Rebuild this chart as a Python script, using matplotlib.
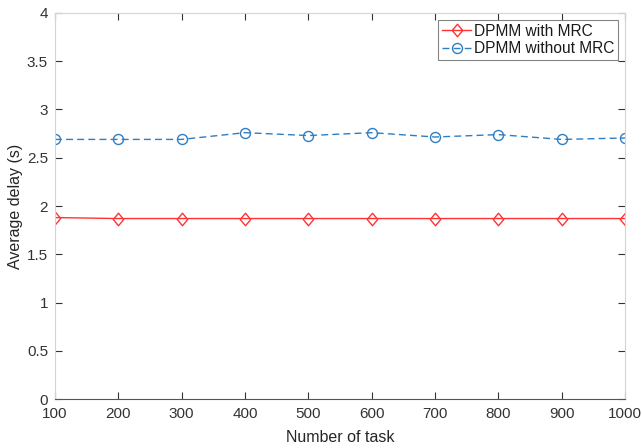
import matplotlib
matplotlib.use("Agg")
import matplotlib.pyplot as plt
from matplotlib.path import Path

plt.rcParams['font.family'] = ['Liberation Sans', 'DejaVu Sans']

tasks = [100, 200, 300, 400, 500, 600, 700, 800, 900, 1000]
delay_with_mrc = [1.88, 1.87, 1.87, 1.87, 1.87, 1.87, 1.87, 1.87, 1.87, 1.87]
delay_without_mrc = [2.69, 2.69, 2.69, 2.76, 2.73, 2.76, 2.715, 2.74, 2.69, 2.705]
y_ticks = [0, 0.5, 1, 1.5, 2, 2.5, 3, 3.5, 4]
y_tick_labels = ['0', '0.5', '1', '1.5', '2', '2.5', '3', '3.5', '4']

# MATLAB-style diamond: slightly taller than wide
diamond = Path([(0, 0.5), (0.42, 0), (0, -0.5), (-0.42, 0), (0, 0.5)],
               [Path.MOVETO, Path.LINETO, Path.LINETO, Path.LINETO, Path.CLOSEPOLY])

fig = plt.figure(figsize=(6.42, 4.48), dpi=100)
ax = fig.add_axes([55 / 642, 1 - 399 / 448, 570 / 642, 386 / 448])

ax.plot(tasks, delay_with_mrc, color='#ff3333', linestyle='-', linewidth=1.0,
        marker=diamond, markersize=9, markerfacecolor='none', markeredgewidth=1.0,
        label='DPMM with MRC')
ax.plot(tasks, delay_without_mrc, color='#2f7ec4', linestyle=(0, (5, 3)), linewidth=1.0,
        marker='o', markersize=7.2, markerfacecolor='none', markeredgewidth=1.0,
        label='DPMM without MRC')

ax.set_xlim(100, 1000)
ax.set_ylim(0, 4)
ax.set_xticks(tasks)
ax.set_yticks(y_ticks)
ax.set_yticklabels(y_tick_labels)

for s in ax.spines.values():
    s.set_color('#d4d4d4')
    s.set_linewidth(0.8)
ax.spines['bottom'].set_color('#555555')

ax.tick_params(direction='in', top=True, right=True, length=5, width=0.8,
               color='#333333', labelsize=11, labelcolor='#333333')
ax.tick_params(axis='x', pad=6)
ax.tick_params(axis='y', pad=5)

ax.set_xlabel('Number of task', fontsize=11.5, color='#262626', labelpad=6)
ax.set_ylabel('Average delay (s)', fontsize=11.5, color='#262626', labelpad=3)

leg = ax.legend(loc='upper right', fontsize=11.2, frameon=True, fancybox=False,
                edgecolor='#666666', handlelength=1.9, handletextpad=0.15,
                borderpad=0.25, labelspacing=0.15, borderaxespad=0.45)
leg.get_frame().set_linewidth(0.8)
for t in leg.get_texts():
    t.set_color('#1a1a1a')

fig.savefig('out.png', dpi=100)
